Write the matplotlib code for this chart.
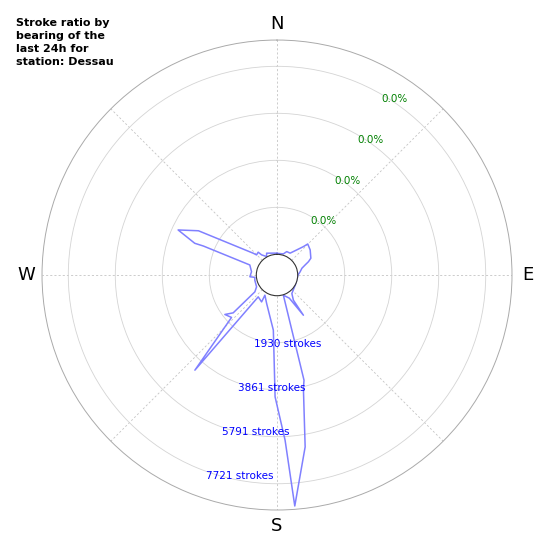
import numpy as np
import matplotlib
matplotlib.use("Agg")
from matplotlib import pyplot as plt

# stroke counts by bearing (degrees clockwise from north)
bearings = [0, 16.7, 22.6, 30.9, 38.2, 42.9, 44.7, 52.9, 63.6, 67, 70.3, 74.8, 81.8,
            90, 118, 141.2, 146.9, 146.7, 152, 162.5, 165.6, 166.9, 170.7, 175.6,
            177.2, 180.9, 183.8, 200, 211, 209.8, 220.7, 220.8, 227, 232.9, 229.2,
            232.8, 240, 257, 264, 266.4, 277.4, 290.3, 291.5, 291.1, 294.5, 299.4,
            312.5, 314.6, 320.5, 322.6, 330.6, 334.6, 354.7, 360]
strokes = [41, 57, 193, 197, 464, 743, 944, 858, 702, 554, 377, 209, 111,
           12, 4, 123, 382, 1125, 226, 20, 3609, 3933, 6302, 8663,
           5941, 4155, 1420, 394, 115, 423, 332, 4311, 1704, 1835, 1527,
           291, 119, 86, 65, 267, 205, 341, 2402, 2771, 3613, 2853,
           476, 328, 365, 193, 20, 143, 53, 41]

ring_values = [1930, 3861, 5791, 7721]
ring_labels = ["1930 strokes", "3861 strokes", "5791 strokes", "7721 strokes"]
pct_labels = ["0.0%", "0.0%", "0.0%", "0.0%"]
compass = ["N", "", "E", "", "S", "", "W", ""]

station = "Dessau"
r_max = 8800
r_hole = 850

fig = plt.figure(figsize=(5.5, 5.5), dpi=100)
ax = fig.add_axes([0.0764, 0.0727, 0.8545, 0.8545], projection="polar")
ax.set_theta_zero_location("N")
ax.set_theta_direction(-1)
ax.set_rorigin(-r_hole)
ax.set_ylim(0, r_max)

ax.plot(np.radians(bearings), strokes, color="#8080ff", lw=1.1)

ax.set_xticks(np.radians(np.arange(0, 360, 45)))
ax.set_xticklabels(compass, fontsize=13)
ax.tick_params(axis="x", pad=1)
ax.set_yticks(ring_values)
ax.set_yticklabels([])
ax.xaxis.grid(True, color="#c4c4c4", ls=(0, (2.5, 2.5)), lw=0.6)
ax.yaxis.grid(True, color="#d4d4d4", ls="-", lw=0.6)
ax.spines["polar"].set_color("#aaaaaa")
ax.spines["polar"].set_linewidth(0.7)
ax.spines["inner"].set_color("#333333")
ax.spines["inner"].set_linewidth(0.8)

for r, lab in zip(ring_values, ring_labels):
    ax.text(np.radians(200), r, lab, color="blue", fontsize=7.5, ha="left", va="top")
for r, lab in zip(ring_values, pct_labels):
    ax.text(np.radians(30), r, lab, color="green", fontsize=7.5, ha="left", va="top")

fig.text(0.03, 0.968, "Stroke ratio by\nbearing of the\nlast 24h for\nstation: " + station,
         fontsize=8, fontweight="bold", ha="left", va="top", linespacing=1.4)

fig.savefig("out.png", dpi=100)
